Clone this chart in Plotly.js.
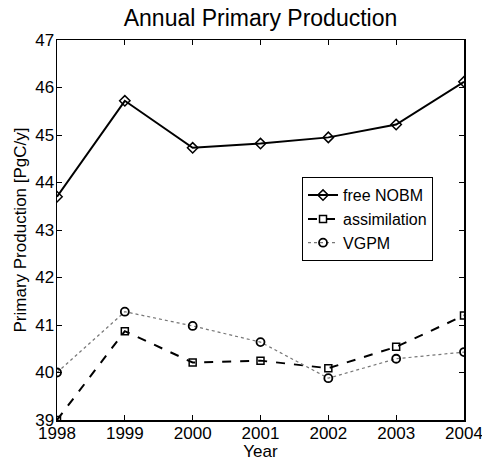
<!DOCTYPE html>
<html>
<head>
<meta charset="utf-8">
<script src="https://cdn.plot.ly/plotly-3.0.1.min.js"></script>
<style>html,body{margin:0;padding:0;background:#fff;}#chart{width:482px;height:461px;}</style>
</head>
<body>
<div id="chart"></div>
<script>
const years = [1998, 1999, 2000, 2001, 2002, 2003, 2004];
const freeNOBM = [43.70, 45.72, 44.73, 44.82, 44.95, 45.22, 46.12];
const assimilation = [39.00, 40.87, 40.21, 40.25, 40.09, 40.54, 41.20];
const vgpm = [40.00, 41.28, 40.98, 40.64, 39.88, 40.29, 40.43];
const yTicks = [39, 40, 41, 42, 43, 44, 45, 46, 47];

const font = "Liberation Sans, Arial, Helvetica, sans-serif";

const traces = [
  {x: years, y: freeNOBM, name: "free NOBM", mode: "lines+markers",
   line: {color: "#000", width: 2, dash: "solid"},
   marker: {symbol: "diamond-open", size: 8, color: "#000", line: {width: 1.5, color: "#000"}}},
  {x: years, y: assimilation, name: "assimilation", mode: "lines+markers",
   line: {color: "#000", width: 2, dash: "dash"},
   marker: {symbol: "square-open", size: 7, color: "#000", line: {width: 1.5, color: "#000"}}},
  {x: years, y: vgpm, name: "VGPM", mode: "lines+markers",
   line: {color: "#777", width: 1.2, dash: "dot"},
   marker: {symbol: "circle-open", size: 8, color: "#000", line: {width: 1.8, color: "#000"}}}
];

const axisCommon = {
  showline: true, linecolor: "#000", linewidth: 1.5, mirror: "ticks",
  ticks: "inside", ticklen: 5, tickwidth: 1, tickcolor: "#000",
  showgrid: false, zeroline: false,
  ticklabeloverflow: "allow",
  tickfont: {family: font, size: 17, color: "#000"}
};

const layout = {
  width: 482, height: 461,
  margin: {l: 57, r: 18, t: 40, b: 41},
  paper_bgcolor: "#fff", plot_bgcolor: "#fff",
  title: {text: "Annual Primary Production", font: {family: font, size: 23, color: "#000"},
          x: 0.5, xref: "paper", xanchor: "center",
          yref: "container", y: 0.962, yanchor: "middle"},
  xaxis: Object.assign({}, axisCommon, {
    range: [1998, 2004], tickvals: years, ticktext: years.map(String),
    ticklabelstandoff: -3,
    title: {text: "Year", font: {family: font, size: 17, color: "#000"}, standoff: 0}
  }),
  yaxis: Object.assign({}, axisCommon, {
    range: [39, 47], tickvals: yTicks, ticktext: yTicks.map(String),
    ticklabelstandoff: -2,
    title: {text: "Primary Production [PgC/y]", font: {family: font, size: 17, color: "#000"}, standoff: 4}
  }),
  showlegend: true,
  legend: {x: 0.602, y: 0.639, xanchor: "left", yanchor: "top",
           bgcolor: "#fff", bordercolor: "#000", borderwidth: 1,
           font: {family: font, size: 16, color: "#000"},
           itemwidth: 30, tracegroupgap: 0}
};

Plotly.newPlot("chart", traces, layout, {staticPlot: true, displayModeBar: false});
</script>
</body>
</html>
